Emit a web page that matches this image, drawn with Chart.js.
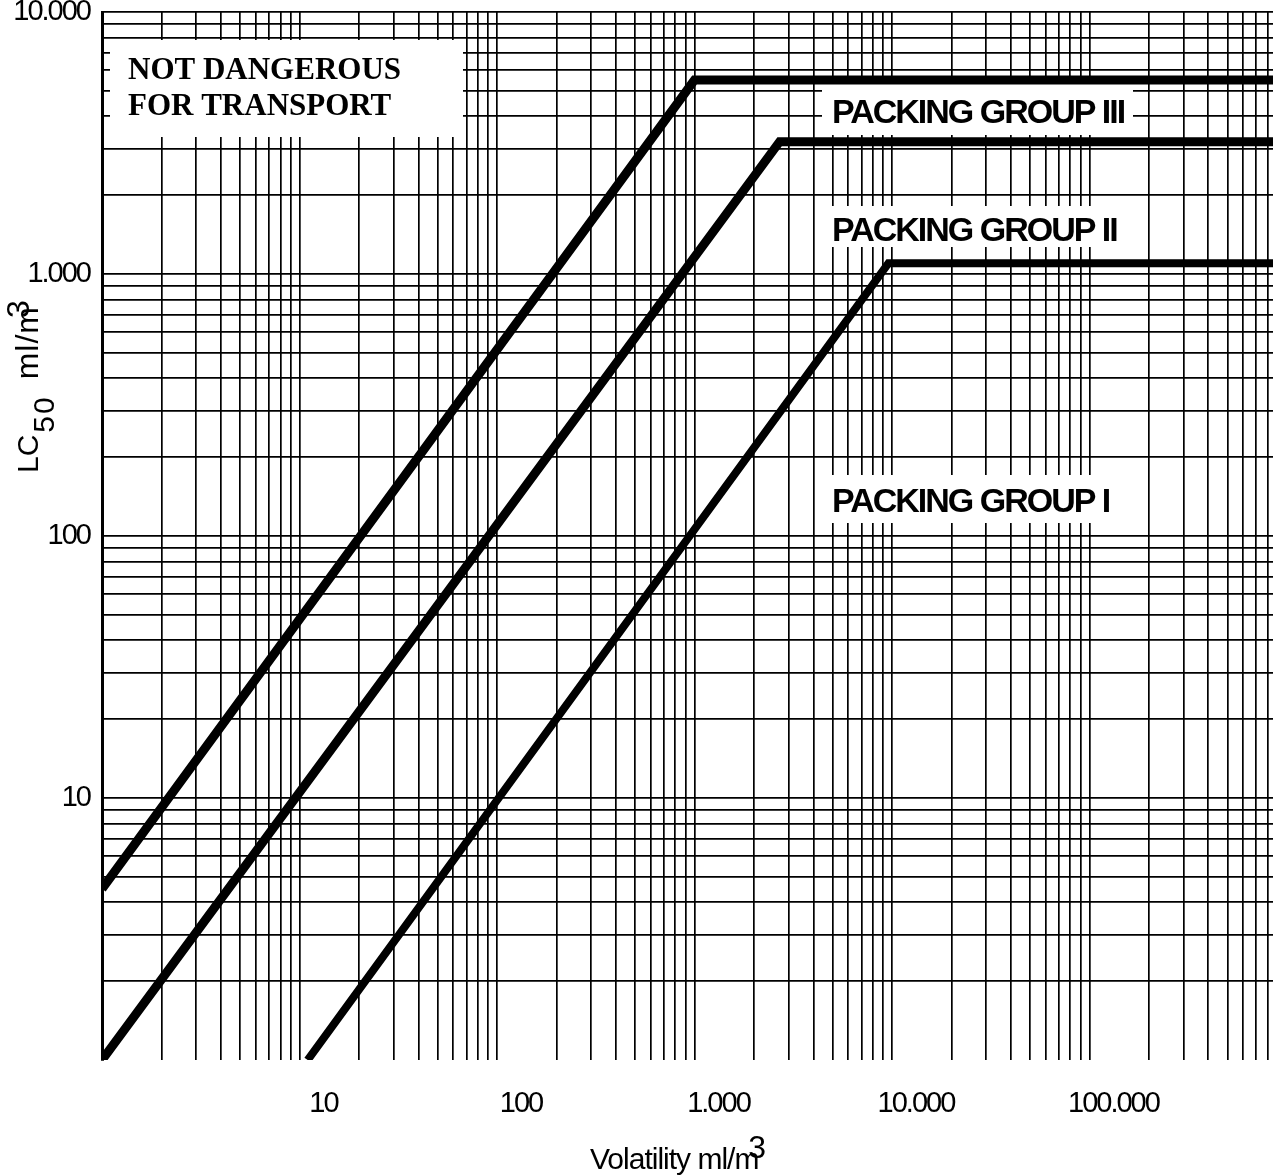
<!DOCTYPE html>
<html>
<head>
<meta charset="utf-8">
<script src="https://cdn.jsdelivr.net/npm/chart.js@4.4.0/dist/chart.umd.min.js"></script>
<style>
  html, body { margin: 0; padding: 0; background: #fff; overflow: hidden; }
  #wrap { position: absolute; left: 0; top: -20px; width: 1273px; height: 1195px; }
</style>
</head>
<body>
<div id="wrap"><canvas id="lcChart"></canvas></div>
<script>
// axis ranges
const xMin = 1, xMax = 850000;
const yMin = 1, yMax = 10000;

// boundary lines: volatility (x) and LC50 (y)
const group3Volatility = [1, 1000, 850000];
const group3Lc50 = [4.5, 5500, 5500];
const group2Volatility = [1, 2700, 850000];
const group2Lc50 = [1, 3200, 3200];
const group1Volatility = [11, 9600, 850000];
const group1Lc50 = [1, 1100, 1100];

// tick labels
const xTickValues = [10, 100, 1000, 10000, 100000];
const xTickLabels = ['10', '100', '1.000', '10.000', '100.000'];
const yTickValues = [10, 100, 1000, 10000];
const yTickLabels = ['10', '100', '1.000', '10.000'];

// region texts
const notDangerousLines = ['NOT DANGEROUS', 'FOR TRANSPORT'];
const groupLabels = ['PACKING GROUP III', 'PACKING GROUP II', 'PACKING GROUP I'];

const SHIFT = 20; // canvas sits 20px above the page top

// 1..9 x 10^n grid lines inside (min, max]
function logGrid(min, max) {
    let out = [];
    for (let e = 0; e <= 6; e++) {
        for (let m = 1; m <= 9; m++) {
            const v = m * Math.pow(10, e);
            if (v > min && v <= max) out.push(v);
        }
    }
    return out;
}

function toPoints(xs, ys) {
    return xs.map((x, i) => ({ x: x, y: ys[i] }));
}

const textSpacing = {
    id: 'textSpacing',
    beforeDraw(chart) {
        chart.ctx.letterSpacing = '-2px';
    }
};

// white boxes behind the region texts (drawn over the grid, under the lines)
const regionBoxes = {
    id: 'regionBoxes',
    beforeDatasetsDraw(chart) {
        const ctx = chart.ctx;
        ctx.save();
        ctx.fillStyle = '#fff';
        ctx.fillRect(110, 40 + SHIFT, 353, 97);
        ctx.fillRect(822, 84 + SHIFT, 311, 51);
        ctx.fillRect(826, 206 + SHIFT, 307, 41);
        ctx.fillRect(826, 475 + SHIFT, 307, 48);
        ctx.restore();
    },
    afterDatasetsDraw(chart) {
        const ctx = chart.ctx;
        ctx.save();
        ctx.fillStyle = '#000';
        ctx.textBaseline = 'alphabetic';
        ctx.letterSpacing = '0px';
        ctx.font = 'bold 31px "Liberation Serif"';
        ctx.fillText(notDangerousLines[0], 128, 79 + SHIFT);
        ctx.fillText(notDangerousLines[1], 128, 115 + SHIFT);

        ctx.letterSpacing = '-2px';
        ctx.font = 'bold 34px "Liberation Sans"';
        ctx.fillText(groupLabels[0], 832, 123 + SHIFT);
        ctx.fillText(groupLabels[1], 832, 241 + SHIFT);
        ctx.fillText(groupLabels[2], 832, 512 + SHIFT);
        ctx.restore();
    }
};

// axis titles with sub/superscripts
const axisTitles = {
    id: 'axisTitles',
    afterDraw(chart) {
        const ctx = chart.ctx;
        ctx.save();
        ctx.fillStyle = '#000';
        ctx.textBaseline = 'alphabetic';
        ctx.letterSpacing = '-1px';

        // x title
        ctx.font = '30px "Liberation Sans"';
        let x = 590;
        const base = 1169 + SHIFT;
        const main = 'Volatility ml/m';
        ctx.fillText(main, x, base);
        x += ctx.measureText(main).width;
        ctx.font = '32px "Liberation Sans"';
        ctx.fillText('3', x - 10, base - 11);

        // y title, rotated
        ctx.translate(38, 473 + SHIFT);
        ctx.rotate(-Math.PI / 2);
        ctx.letterSpacing = '0px';
        ctx.font = '30px "Liberation Sans"';
        let p = 0;
        ctx.fillText('LC', p, 0);
        p += ctx.measureText('LC').width;
        ctx.letterSpacing = '2px';
        ctx.font = '30px "Liberation Sans"';
        ctx.fillText('50', p + 2, 16);
        p += ctx.measureText('50').width + 18;
        ctx.letterSpacing = '1px';
        ctx.font = '32px "Liberation Sans"';
        ctx.fillText('ml/m', p, 0);
        p += ctx.measureText('ml/m').width;
        ctx.fillText('3', p - 12, -9);
        ctx.restore();
    }
};

const lineStyle = {
    borderColor: '#000',
    pointRadius: 0,
    fill: false,
    tension: 0,
    borderCapStyle: 'butt',
    borderJoinStyle: 'miter'
};

const ctx = document.getElementById('lcChart').getContext('2d');
new Chart(ctx, {
    type: 'line',
    data: {
        datasets: [
            Object.assign({ label: 'III', data: toPoints(group3Volatility, group3Lc50), borderWidth: 9 }, lineStyle),
            Object.assign({ label: 'II', data: toPoints(group2Volatility, group2Lc50), borderWidth: 9 }, lineStyle),
            Object.assign({ label: 'I', data: toPoints(group1Volatility, group1Lc50), borderWidth: 8 }, lineStyle)
        ]
    },
    options: {
        responsive: true,
        maintainAspectRatio: false,
        animation: false,
        layout: { padding: { top: 32, left: 0, right: 0, bottom: 0 } },
        plugins: {
            legend: { display: false },
            tooltip: { enabled: false }
        },
        scales: {
            x: {
                type: 'logarithmic',
                min: xMin,
                max: xMax,
                afterBuildTicks: s => { s.ticks = logGrid(xMin, xMax).map(v => ({ value: v })); },
                afterFit: s => { s.height = 115; s.paddingLeft = 0; s.paddingRight = 0; },
                grid: { color: '#000', lineWidth: 1.7, drawTicks: false },
                border: { display: false },
                ticks: {
                    autoSkip: false,
                    maxRotation: 0,
                    padding: 27,
                    labelOffset: 24,
                    color: '#000',
                    font: { family: '"Liberation Sans"', size: 29 },
                    callback: v => {
                        const i = xTickValues.indexOf(v);
                        return i >= 0 ? xTickLabels[i] : '';
                    }
                }
            },
            y: {
                type: 'logarithmic',
                min: yMin,
                max: yMax,
                afterBuildTicks: s => { s.ticks = logGrid(yMin, yMax).map(v => ({ value: v })); },
                afterFit: s => { s.width = 102; s.paddingTop = 0; s.paddingBottom = 0; },
                grid: { color: '#000', lineWidth: 1.7, drawTicks: false },
                border: { display: true, color: '#000', width: 3 },
                ticks: {
                    autoSkip: false,
                    padding: 12,
                    color: '#000',
                    font: { family: '"Liberation Sans"', size: 29 },
                    callback: v => {
                        const i = yTickValues.indexOf(v);
                        return i >= 0 ? yTickLabels[i] : '';
                    }
                }
            }
        }
    },
    plugins: [textSpacing, regionBoxes, axisTitles]
});
</script>
</body>
</html>
